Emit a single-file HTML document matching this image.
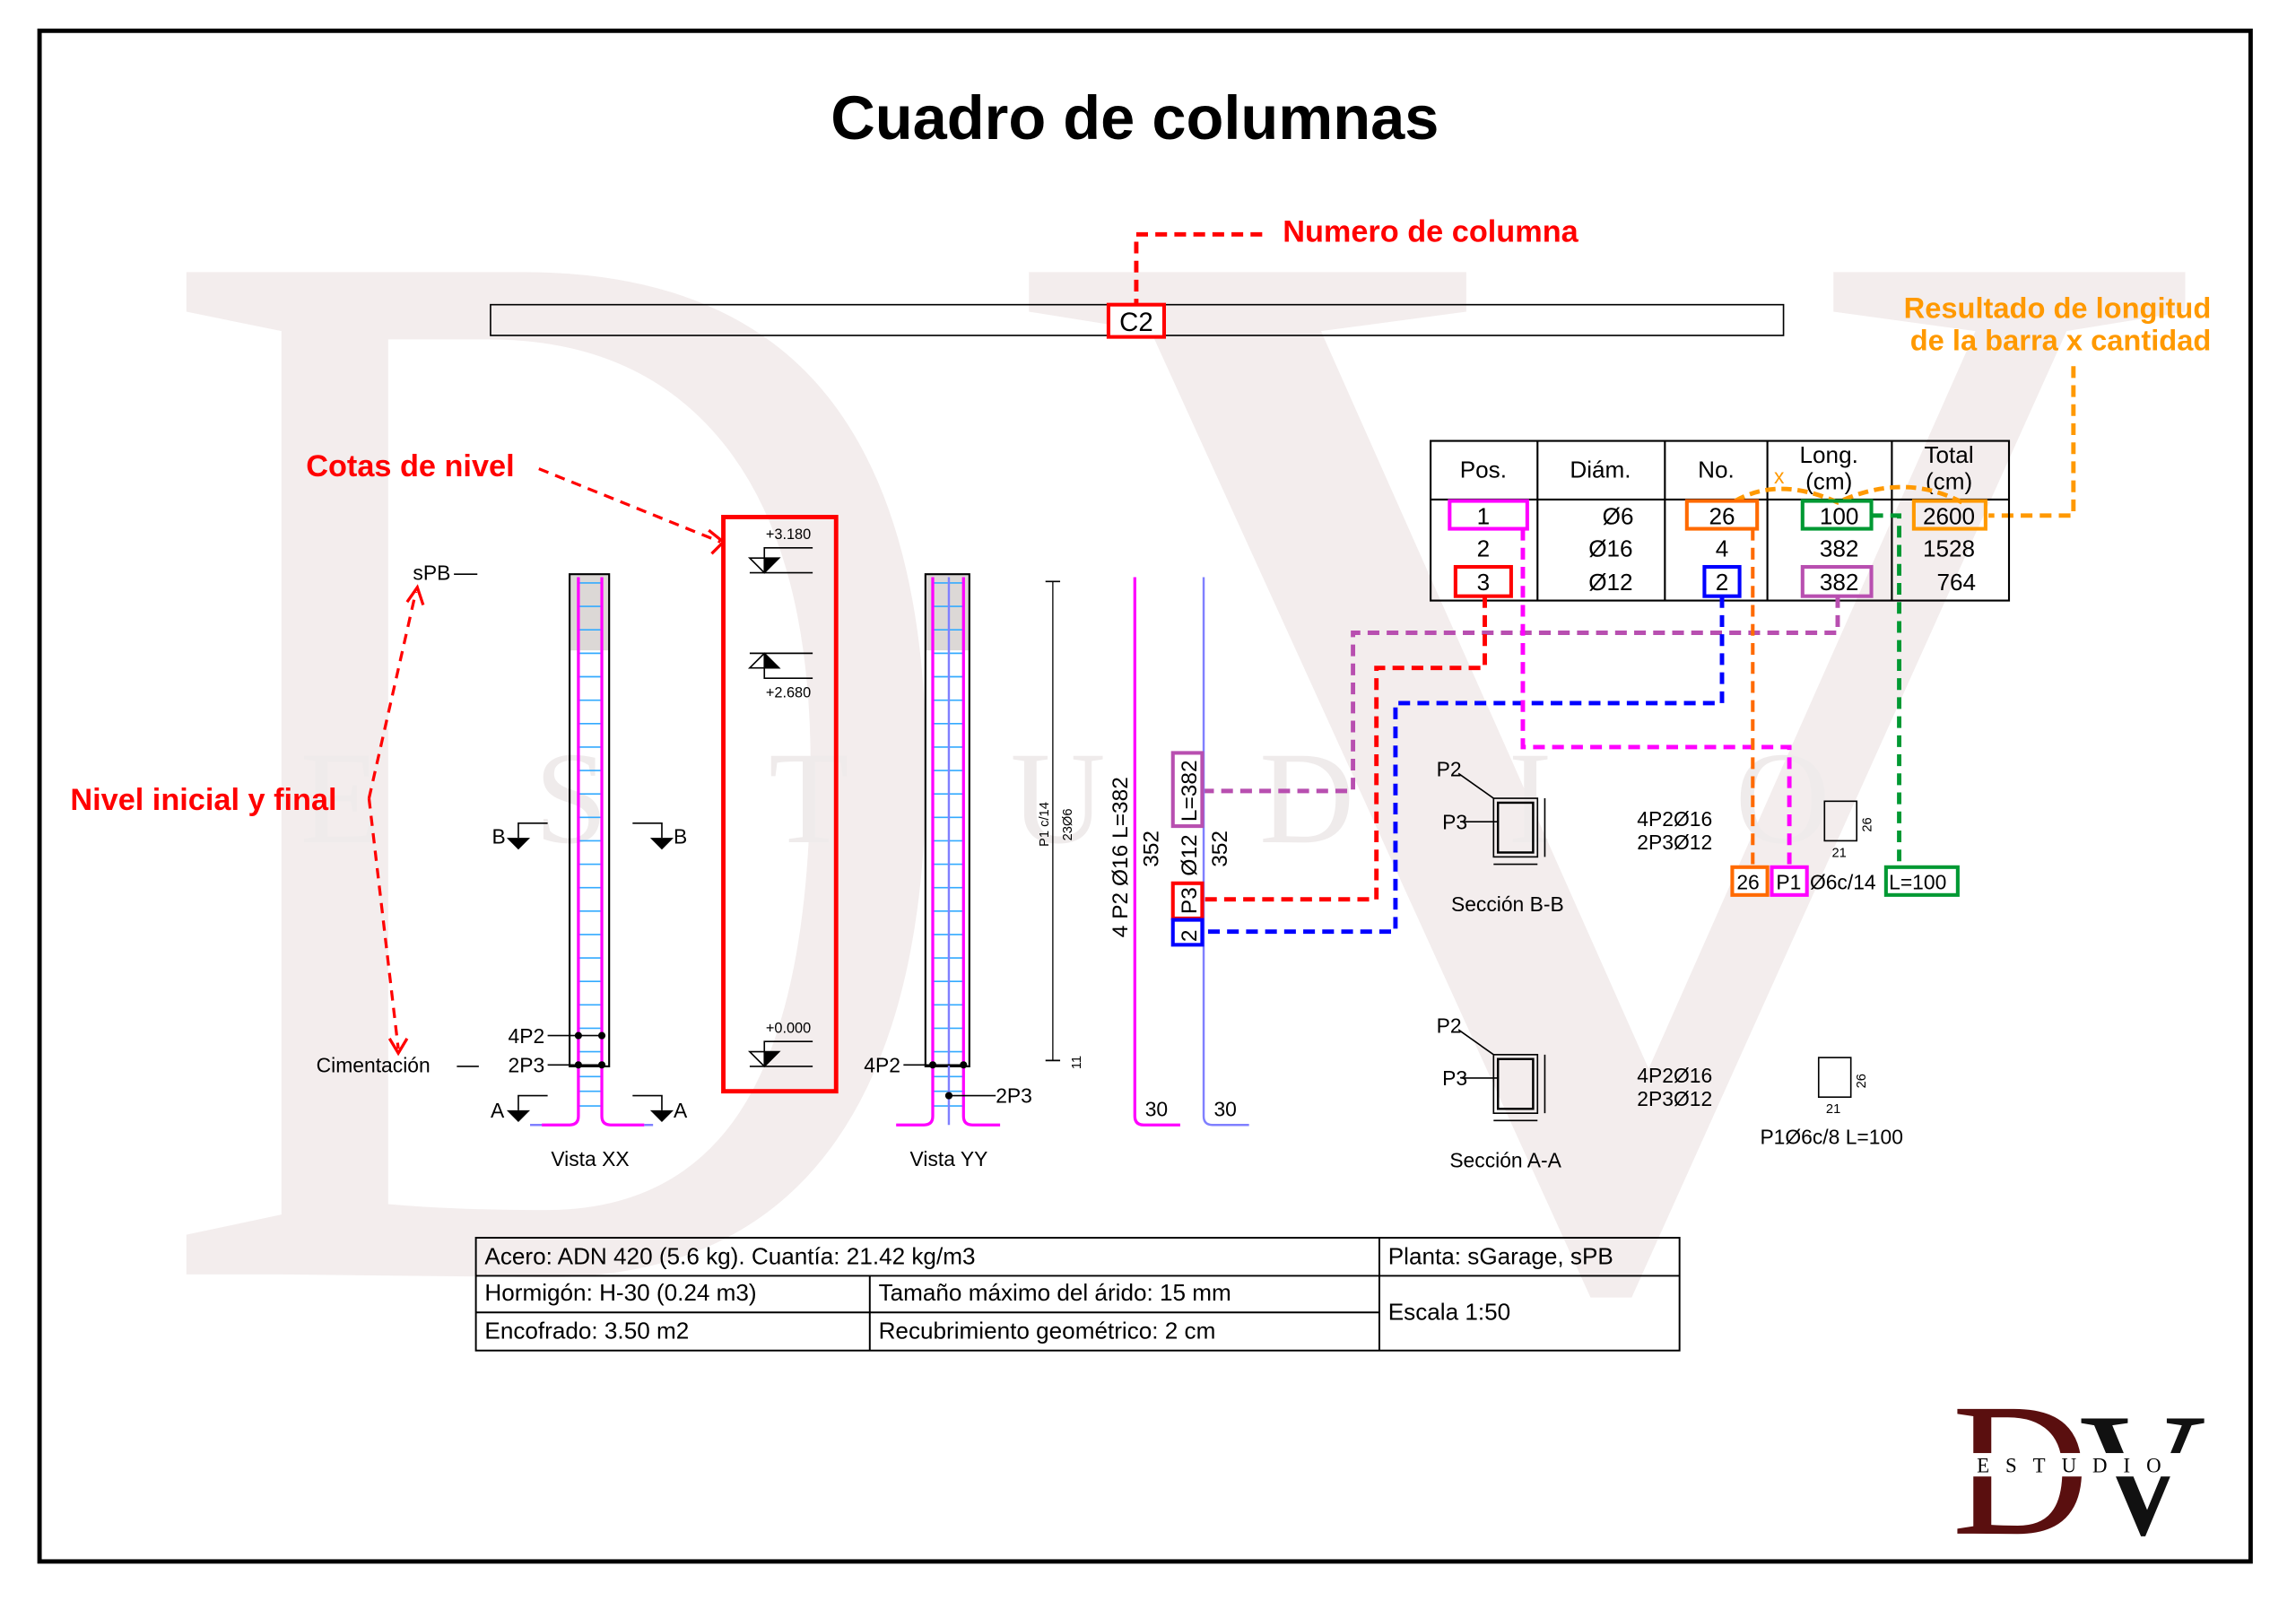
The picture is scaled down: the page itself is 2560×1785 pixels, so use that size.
<!DOCTYPE html>
<html><head><meta charset="utf-8"><style>
html,body{margin:0;padding:0;background:#fff;}
svg{display:block;font-family:"Liberation Sans",Arial,sans-serif;}
</style></head><body>
<svg width="2560" height="1785" viewBox="0 0 1568 1093" preserveAspectRatio="none" xmlns="http://www.w3.org/2000/svg">
<rect width="1568" height="1093" fill="#fff"/>
<!-- watermark -->
<g fill="#f3eded" font-family="Liberation Serif,serif">
<text font-size="1045" transform="translate(105,870) scale(0.74,1)">D</text>
<text font-size="1045" transform="translate(690,870) scale(1.08,1)">V</text>
</g>
<g fill="#efebeb" font-family="Liberation Serif,serif" font-size="90">
<text x="205" y="575">E</text><text x="365" y="575">S</text><text x="525" y="575">T</text><text x="690" y="575">U</text><text x="860" y="575">D</text><text x="1030" y="575">I</text><text x="1185" y="575">O</text>
</g>
<rect x="27" y="21" width="1510" height="1045" fill="none" stroke="#000" stroke-width="3"/>
<text x="775" y="95" text-anchor="middle" font-size="42" font-weight="bold">Cuadro de columnas</text>

<!-- Numero de columna -->
<text x="876" y="165" font-size="21" font-weight="bold" fill="#f00">Numero de columna</text>
<path d="M862 160 H776 V208" fill="none" stroke="#f00" stroke-width="3" stroke-dasharray="8,5"/>
<rect x="335" y="208" width="883" height="21" fill="none" stroke="#000" stroke-width="1"/>
<rect x="757" y="208" width="38" height="22" fill="#fff" stroke="#f00" stroke-width="2.5"/>
<text x="776" y="226" text-anchor="middle" font-size="18">C2</text>

<!-- Resultado -->
<text x="1510" y="217" text-anchor="end" font-size="20" font-weight="bold" fill="#ff9900">Resultado de longitud</text>
<text x="1510" y="239" text-anchor="end" font-size="20" font-weight="bold" fill="#ff9900">de la barra x cantidad</text>
<path d="M1416 250 V352 H1358" fill="none" stroke="#ff9900" stroke-width="3" stroke-dasharray="8,5"/>

<!-- table -->
<g stroke="#000" stroke-width="1.3" fill="none">
<rect x="977" y="301" width="395" height="109"/>
<line x1="977" y1="341" x2="1372" y2="341"/>
<line x1="1050" y1="301" x2="1050" y2="410"/>
<line x1="1137" y1="301" x2="1137" y2="410"/>
<line x1="1207" y1="301" x2="1207" y2="410"/>
<line x1="1292" y1="301" x2="1292" y2="410"/>
</g>
<g font-size="16" text-anchor="middle">
<text x="1013" y="326">Pos.</text><text x="1093" y="326">Diám.</text><text x="1172" y="326">No.</text>
<text x="1249" y="316">Long.</text><text x="1249" y="334">(cm)</text>
<text x="1331" y="316">Total</text><text x="1331" y="334">(cm)</text>
<text x="1013" y="358">1</text><text x="1013" y="380">2</text><text x="1013" y="403">3</text>
<text x="1105" y="358">Ø6</text><text x="1100" y="380">Ø16</text><text x="1100" y="403">Ø12</text>
<text x="1176" y="358">26</text><text x="1176" y="380">4</text><text x="1176" y="403">2</text>
<text x="1256" y="358">100</text><text x="1256" y="380">382</text><text x="1256" y="403">382</text>
<text x="1331" y="358">2600</text><text x="1331" y="380">1528</text><text x="1336" y="403">764</text>
</g>
<text x="1215" y="330" text-anchor="middle" font-size="14" fill="#ff9900">x</text>
<path d="M1185 342 Q1215 325 1255 343 Q1300 322 1340 343" fill="none" stroke="#ff9900" stroke-width="3" stroke-dasharray="7,4"/>
<g fill="none" stroke-width="2.5">
<rect x="990" y="342" width="53" height="19" stroke="#f0f"/>
<rect x="994" y="387" width="38" height="20" stroke="#f00"/>
<rect x="1152" y="342" width="48" height="19" stroke="#ff6a00"/>
<rect x="1164" y="387" width="24" height="20" stroke="#00f"/>
<rect x="1231" y="342" width="47" height="19" stroke="#009933"/>
<rect x="1231" y="387" width="47" height="20" stroke="#b84fb0"/>
<rect x="1307" y="342" width="49" height="19" stroke="#ff9900"/>
</g>

<!-- connectors -->
<g fill="none" stroke-width="3" stroke-dasharray="8,5">
<path d="M1255 407 V432 H924 V540 H820" stroke="#b84fb0"/>
<path d="M1014 407 V456 H940 V614 H820" stroke="#f00"/>
<path d="M1176 407 V480 H953 V636 H820" stroke="#00f"/>
<path d="M1040 361 V510 H1222 V592" stroke="#f0f"/>
<path d="M1197 361 V592" stroke="#ff6a00" stroke-width="2.5"/>
<path d="M1278 352 H1297 V592" stroke="#009933"/>
</g>

<!-- Cotas de nivel -->
<text x="209" y="325" font-size="21" font-weight="bold" fill="#f00">Cotas de nivel</text>
<path d="M368 320 L492 370" fill="none" stroke="#f00" stroke-width="2" stroke-dasharray="7,5"/>
<path d="M484 362 L494 370 L486 378" fill="none" stroke="#f00" stroke-width="2"/>
<rect x="494" y="353" width="77" height="392" fill="none" stroke="#f00" stroke-width="3"/>
<g stroke="#000" stroke-width="1" fill="none">
<path d="M512 391 H555 M522 391 V374 H555"/><path d="M512 381 L532 381 L522 391 Z"/>
<path d="M512 446 H555 M522 446 V463 H555"/><path d="M512 456 L532 456 L522 446 Z"/>
<path d="M512 728 H555 M522 728 V711 H555"/><path d="M512 718 L532 718 L522 728 Z"/>
</g>
<g fill="#000"><path d="M522 381 L532 381 L522 391 Z"/><path d="M522 456 L532 456 L522 446 Z"/><path d="M522 718 L532 718 L522 728 Z"/></g>
<g font-size="10"><text x="523" y="368">+3.180</text><text x="523" y="476">+2.680</text><text x="523" y="705">+0.000</text></g>

<!-- Nivel inicial -->
<text x="48" y="553" font-size="21" font-weight="bold" fill="#f00">Nivel inicial y final</text>
<path d="M252 545 L284 404 M252 545 L272 716" fill="none" stroke="#f00" stroke-width="2" stroke-dasharray="7,5"/>
<path d="M278 411 L285 401 L289 413 M266 709 L272 719 L278 709" fill="none" stroke="#f00" stroke-width="2"/>
<text x="282" y="396" font-size="14">sPB</text><line x1="310" y1="392" x2="326" y2="392" stroke="#000"/>
<text x="216" y="732" font-size="14">Cimentación</text><line x1="312" y1="728" x2="327" y2="728" stroke="#000"/>

<!-- Vista XX -->
<rect x="389" y="392" width="27" height="52" fill="#dcd8d6"/>
<rect x="389" y="392" width="27" height="336" fill="none" stroke="#000" stroke-width="1.3"/>
<g stroke="#33aaff" stroke-width="1">
<path d="M395 398H411M395 414H411M395 430H411M395 446H411M395 462H411M395 478H411M395 494H411M395 510H411M395 526H411M395 542H411M395 558H411M395 574H411M395 590H411M395 606H411M395 622H411M395 638H411M395 654H411M395 670H411M395 686H411M395 702H411M395 718H411M395 735H411M395 745H411M395 755H411"/>
</g>
<path d="M395 394 V762 Q395 768 389 768 H370 M411 394 V762 Q411 768 417 768 H440" fill="none" stroke="#f0f" stroke-width="2"/>
<path d="M362 768H370 M440 768H446" stroke="#8080ff" stroke-width="1.5"/>
<g stroke="#000" fill="#000"><line x1="374" y1="707" x2="413" y2="707"/><line x1="374" y1="727" x2="413" y2="727"/>
<circle cx="395" cy="707" r="2"/><circle cx="411" cy="707" r="2"/><circle cx="395" cy="727" r="2"/><circle cx="411" cy="727" r="2"/></g>
<text x="347" y="712" font-size="14">4P2</text><text x="347" y="732" font-size="14">2P3</text>
<g stroke="#000" fill="none"><path d="M374 562 H354 V572 M432 562 H452 V572 M374 748 H354 V758 M432 748 H452 V758"/></g>
<g fill="#000"><path d="M346 572H362L354 580Z M444 572H460L452 580Z M346 758H362L354 766Z M444 758H460L452 766Z"/></g>
<g font-size="14"><text x="336" y="576">B</text><text x="460" y="576">B</text><text x="335" y="763">A</text><text x="460" y="763">A</text></g>
<text x="403" y="796" text-anchor="middle" font-size="14">Vista XX</text>

<!-- Vista YY -->
<rect x="632" y="392" width="30" height="52" fill="#dcd8d6"/>
<rect x="632" y="392" width="30" height="336" fill="none" stroke="#000" stroke-width="1.3"/>
<g stroke="#33aaff" stroke-width="1">
<path d="M637 398H658M637 414H658M637 430H658M637 446H658M637 462H658M637 478H658M637 494H658M637 510H658M637 526H658M637 542H658M637 558H658M637 574H658M637 590H658M637 606H658M637 622H658M637 638H658M637 654H658M637 670H658M637 686H658M637 702H658M637 718H658M637 735H658M637 745H658M637 755H658"/>
</g>
<line x1="648" y1="394" x2="648" y2="768" stroke="#8080ff" stroke-width="1.5"/>
<path d="M637 394 V762 Q637 768 631 768 H612 M658 394 V762 Q658 768 664 768 H683" fill="none" stroke="#f0f" stroke-width="2"/>
<g stroke="#000" fill="#000"><line x1="617" y1="727" x2="660" y2="727"/><circle cx="637" cy="727" r="2"/><circle cx="658" cy="727" r="2"/>
<line x1="648" y1="748" x2="680" y2="748"/><circle cx="648" cy="748" r="2"/></g>
<text x="590" y="732" font-size="14">4P2</text><text x="680" y="753" font-size="14">2P3</text>
<text x="648" y="796" text-anchor="middle" font-size="14">Vista YY</text>

<!-- dimension -->
<line x1="719" y1="397" x2="719" y2="724" stroke="#000" stroke-width="0.8"/>
<path d="M714 397H724 M714 724H724" stroke="#000"/>
<text transform="translate(716,578) rotate(-90)" font-size="9">P1 c/14</text>
<text transform="translate(732,574) rotate(-90)" font-size="9">23Ø6</text>
<text transform="translate(738,730) rotate(-90)" font-size="9">11</text>

<!-- bars -->
<path d="M775 394 V762 Q775 768 781 768 H806" fill="none" stroke="#f0f" stroke-width="2"/>
<path d="M822 394 V762 Q822 768 828 768 H853" fill="none" stroke="#8080ff" stroke-width="1.5"/>
<text x="782" y="762" font-size="14">30</text><text x="829" y="762" font-size="14">30</text>
<text transform="translate(770,640) rotate(-90)" font-size="15">4  P2  Ø16  L=382</text>
<text transform="translate(791,592) rotate(-90)" font-size="15">352</text>
<text transform="translate(817,598) rotate(-90)" font-size="15">Ø12</text>
<text transform="translate(838,592) rotate(-90)" font-size="15">352</text>
<g fill="#fff" stroke-width="2.5">
<rect x="801" y="514" width="20" height="50" stroke="#b84fb0"/>
<rect x="801" y="603" width="20" height="24" stroke="#f00"/>
<rect x="801" y="628" width="20" height="17" stroke="#00f"/>
</g>
<text transform="translate(817,561) rotate(-90)" font-size="15">L=382</text>
<text transform="translate(817,624) rotate(-90)" font-size="15">P3</text>
<text transform="translate(817,643) rotate(-90)" font-size="15">2</text>

<!-- Seccion B-B -->
<g stroke="#000" fill="none" stroke-width="1">
<rect x="1020" y="545" width="30" height="40"/><rect x="1023" y="548" width="24" height="34" stroke-width="1.5"/>
<path d="M996 528 L1020 545 M998 561 H1023 M1055 545 V585 M1020 590 H1050"/>
<rect x="1020" y="720" width="30" height="40"/><rect x="1023" y="723" width="24" height="34" stroke-width="1.5"/>
<path d="M996 703 L1020 720 M998 736 H1023 M1055 720 V760 M1020 765 H1050"/>
<rect x="1246" y="547" width="22" height="27"/><rect x="1242" y="722" width="22" height="27"/>
</g>
<g font-size="14">
<text x="981" y="530">P2</text><text x="985" y="566">P3</text><text x="991" y="622">Sección B-B</text>
<text x="1118" y="564">4P2Ø16</text><text x="1118" y="580">2P3Ø12</text>
<text x="981" y="705">P2</text><text x="985" y="741">P3</text><text x="990" y="797">Sección A-A</text>
<text x="1118" y="739">4P2Ø16</text><text x="1118" y="755">2P3Ø12</text>
<text x="1202" y="781">P1Ø6c/8 L=100</text>
</g>
<g font-size="9"><text x="1251" y="585">21</text><text transform="translate(1278,568) rotate(-90)">26</text>
<text x="1247" y="760">21</text><text transform="translate(1274,743) rotate(-90)">26</text></g>
<g fill="#fff" stroke-width="2.5">
<rect x="1183" y="592" width="24" height="19" stroke="#ff6a00"/>
<rect x="1210" y="592" width="24" height="19" stroke="#f0f"/>
<rect x="1288" y="592" width="49" height="19" stroke="#009933"/>
</g>
<g font-size="14"><text x="1186" y="607">26</text><text x="1213" y="607">P1</text><text x="1236" y="607">Ø6c/14</text><text x="1290" y="607">L=100</text></g>

<!-- bottom table -->
<g stroke="#000" stroke-width="1.2" fill="none">
<rect x="325" y="845" width="822" height="77"/>
<line x1="325" y1="871" x2="1147" y2="871"/><line x1="325" y1="896" x2="942" y2="896"/>
<line x1="942" y1="845" x2="942" y2="922"/><line x1="594" y1="871" x2="594" y2="922"/>
</g>
<g font-size="16">
<text x="331" y="863">Acero: ADN 420 (5.6 kg). Cuantía: 21.42 kg/m3</text>
<text x="948" y="863">Planta: sGarage, sPB</text>
<text x="331" y="888">Hormigón: H-30 (0.24 m3)</text><text x="600" y="888">Tamaño máximo del árido: 15 mm</text>
<text x="331" y="914">Encofrado: 3.50 m2</text><text x="600" y="914">Recubrimiento geométrico: 2 cm</text>
<text x="948" y="901">Escala 1:50</text>
</g>

<!-- logo -->
<text x="1333" y="1047" font-family="Liberation Serif,serif" font-size="130" fill="#5a0f0f">D</text>
<text x="1420" y="1047" font-family="Liberation Serif,serif" font-size="120" fill="#111">V</text>
<rect x="1345" y="992" width="160" height="16" fill="#fff"/>
<text x="1350" y="1005" font-family="Liberation Serif,serif" font-size="14" letter-spacing="11">ESTUDIO</text>
</svg>
</body></html>
